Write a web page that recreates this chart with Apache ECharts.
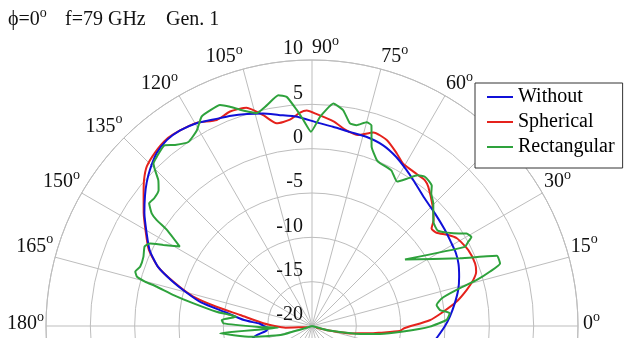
<!DOCTYPE html>
<html>
<head>
<meta charset="utf-8">
<script src="https://cdn.jsdelivr.net/npm/echarts@6/dist/echarts.min.js"></script>
<style>
html,body{margin:0;padding:0;background:#fff;}
#c{width:628px;height:338px;}
</style>
</head>
<body>
<div id="c"></div>
<script>
// ---- data (angle in degrees, gain in dB) ----
const seriesNames = ['Without', 'Spherical', 'Rectangular'];

const blueAng = [-15,-10,-5,0,4,9,14,18.5,23,27,31,36,42.5,49,55,59,63.5,68.5,74,79,84,89,94,99,103,107,111,115.5,119.5,124,128,132,136,139,142,146,151,155,159,162,165,168,171,175,177.5,180,183,186,190,195];
const blueVal = [-7.3,-6.5,-5.8,-5.0,-4.4,-3.7,-3.0,-2.5,-2.05,-1.8,-1.7,-1.5,-1.2,-0.77,0.0,0.6,1.3,1.9,2.2,2.3,2.6,3.0,3.65,4.1,4.6,5.0,5.4,5.8,6.3,6.6,6.6,6.2,5.4,4.7,3.9,2.8,1.3,0.2,-1.4,-3.3,-5.3,-7.2,-10.1,-12.3,-14.1,-14.6,-15.0,-14.8,-13.5,-12.5];

const redAng = [-20,-15,-10.9,-7.2,-5.6,-3.3,-1.4,2.8,6.2,9.5,13.1,15.9,18.3,21,25.9,31.2,34,36.8,39.2,41.1,44.9,50.1,52.3,54.2,57.5,60.7,63.9,68.1,72.4,76.4,80,84,88.7,91.4,93.2,96.1,99.9,103,106.7,110.9,114.8,119.6,124,128,132,136,139,142,146,151,155,159,162.3,166.1,168.6,171.3,176.8,180,183.6,188,195];
const redVal = [-19.5,-18,-15.6,-13.4,-12.3,-10.1,-9.6,-6.7,-5.1,-3.5,-2.1,-1.1,-0.5,-0.3,-0.4,-0.9,-1.6,-2.45,-2.6,-1.8,-0.8,0.45,0.8,0.8,0.85,1.0,1.7,2.6,2.9,2.15,2.4,3.2,3.9,4.3,4.1,3.4,3.2,4.4,5.7,5.9,5.6,6.35,6.6,6.7,6.4,5.9,5.1,4.1,2.9,1.4,0.3,-1.4,-3.6,-6.2,-9.0,-11.8,-14.5,-15.8,-17.0,-19.0,-19.5];

const greenAng = [-20,-15,-10,-6.7,-3.5,-0.3,2.6,5.3,7.1,9.6,12,14,15.6,17,18.4,20.8,24.6,35.6,27.4,28.3,29.2,30.9,33.3,37.2,40.7,45.3,48,49.5,51,53,55,57,59.5,63,67.3,68.7,71.6,73.5,75,77.5,79.4,81.8,84.5,87.8,90.3,92.4,94,96.3,98.3,101.6,104.6,106.5,108.4,110.5,112.6,115.3,117.8,120.5,123.9,127.1,129.2,132.5,134.3,135.2,136.5,138.5,141,143,144.9,145.7,146.5,149,151.4,153,154.6,157.7,161,162.9,164.3,165.1,165.8,167.4,169.2,171.5,173,176.2,178.3,181,183,184.5,190,196,200];
const greenVal = [-20,-18,-15,-12.3,-9.7,-6.7,-4.8,-4.4,-5.45,-5.75,-5.05,-3.2,-0.7,1.0,2.35,2.3,-1.65,-7.1,-0.6,0.0,0.6,0.3,-0.95,-2.2,-1.95,-0.55,0.1,0.8,1.0,1.1,0.75,-0.15,-1.1,-0.3,-0.1,0.1,1.3,3.6,3.8,3.2,3.25,4.6,5.2,3.6,1.9,3.25,4.4,6.0,6.3,5.4,4.8,5.2,5.7,6.4,7.0,6.9,6.7,5.6,5.0,5.6,6.3,5.9,5.6,4.95,3.9,3.1,2.9,3.0,2.1,1.2,-0.4,-2.6,-0.9,0.5,0.9,0.55,0.5,0.85,0.5,-0.5,-1.95,-4.0,-6.4,-9.1,-11.4,-9.8,-10.0,-14,-16.2,-9.6,-13,-16.3,-20];

const angleTickLabels = [0,15,30,60,75,90,105,120,135,150,165,180];
const radialTickLabels = [10,5,0,-5,-10,-15,-20];
const titleParts = ['ϕ=0', 'f=79 GHz', 'Gen. 1'];
const degMark = 'o';

// ---- layout / style ----
const CX = 312, CY = 326, R = 266;
const RMIN = -20, RMAX = 10;
const FONT = '"Liberation Serif", "Times New Roman", serif';
const MAIN_FONT = '20px ' + FONT;
const SUP_FONT = '14px ' + FONT;
const GRID = '#bdbdbd';
const TXT = '#111';
const colors = ['#1010d8', '#e5221c', '#2ea23c'];

function pairs(a, v) { return a.map((ang, i) => [v[i], ang]); }

const mctx = document.createElement('canvas').getContext('2d');
function measure(text, font) { mctx.font = font; return mctx.measureText(text).width; }

const graphics = [];
// text + superscript "o"; ym = vertical middle of main text
function supLabel(x, ym, text, align) {
  const wn = measure(text, MAIN_FONT);
  const wo = measure(degMark, SUP_FONT);
  const x0 = align === 'right' ? x - wn - wo : x;
  graphics.push({type: 'text', x: x0, y: ym, z: 10, style: {text: text, font: MAIN_FONT, fill: TXT, align: 'left', verticalAlign: 'middle'}});
  graphics.push({type: 'text', x: x0 + wn, y: ym - 7, z: 10, style: {text: degMark, font: SUP_FONT, fill: TXT, align: 'left', verticalAlign: 'middle'}});
}
function plainLabel(x, ym, text, align) {
  graphics.push({type: 'text', x: x, y: ym, z: 10, style: {text: text, font: MAIN_FONT, fill: TXT, align: align, verticalAlign: 'middle'}});
}

// title
supLabel(8, 20, titleParts[0], 'left');
plainLabel(65, 20, titleParts[1], 'left');
plainLabel(166, 20, titleParts[2], 'left');

// angle labels
angleTickLabels.forEach(a => {
  const rad = a * Math.PI / 180;
  const r = R + 2;
  const x = CX + r * Math.cos(rad);
  const y = CY - r * Math.sin(rad);
  const align = Math.cos(rad) > -1e-6 ? 'left' : 'right';
  const ym = (a === 0 || a === 180) ? y - 2 : y - 10;
  supLabel(x + (a === 0 ? 3 : 0), ym, String(a), align);
});
// radial labels
radialTickLabels.forEach(v => {
  const ry = CY - (v - RMIN) / (RMAX - RMIN) * R;
  plainLabel(CX - 9, ry - 11, String(v), 'right');
});

const chart = echarts.init(document.getElementById('c'), null, {renderer: 'canvas'});
const option = {
  animation: false,
  backgroundColor: '#fff',
  polar: {center: [CX, CY], radius: [0, R]},
  angleAxis: {
    type: 'value', min: 0, max: 360, interval: 15, startAngle: 0, clockwise: false,
    axisLine: {show: true, lineStyle: {color: GRID, width: 1}},
    axisTick: {show: false}, axisLabel: {show: false},
    splitLine: {show: true, lineStyle: {color: GRID, width: 1}}
  },
  radiusAxis: {
    type: 'value', min: RMIN, max: RMAX, interval: 5,
    axisLine: {show: false}, axisTick: {show: false}, axisLabel: {show: false},
    splitLine: {show: true, lineStyle: {color: GRID, width: 1}}
  },
  legend: {
    data: seriesNames, orient: 'vertical', left: 475, top: 83,
    icon: 'rect', itemWidth: 26, itemHeight: 2, itemGap: 5,
    padding: [4, 8, 11, 12], backgroundColor: '#fff', borderColor: '#333', borderWidth: 1, borderRadius: 0,
    selectedMode: false, z: 20,
    textStyle: {fontFamily: 'Liberation Serif', fontSize: 20, color: '#000', lineHeight: 20}
  },
  graphic: graphics,
  series: [
    {name: seriesNames[1], type: 'line', coordinateSystem: 'polar', data: pairs(redAng, redVal), symbol: 'none', smooth: 0.2, z: 3,
     itemStyle: {color: colors[1]}, lineStyle: {color: colors[1], width: 2}},
    {name: seriesNames[0], type: 'line', coordinateSystem: 'polar', data: pairs(blueAng, blueVal), symbol: 'none', smooth: 0.2, z: 4,
     itemStyle: {color: colors[0]}, lineStyle: {color: colors[0], width: 2}},
    {name: seriesNames[2], type: 'line', coordinateSystem: 'polar', data: pairs(greenAng, greenVal), symbol: 'none', smooth: 0.15, z: 5,
     itemStyle: {color: colors[2]}, lineStyle: {color: colors[2], width: 2}}
  ]
};
chart.setOption(option);
</script>
</body>
</html>
